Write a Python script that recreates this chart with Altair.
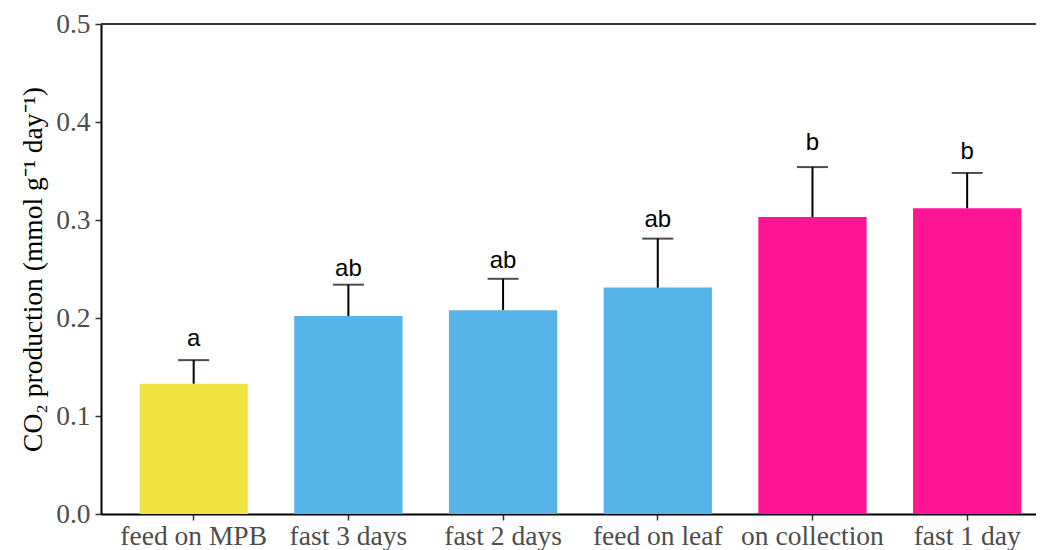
import altair as alt
import pandas as pd

categories = ["feed on MPB", "fast 3 days", "fast 2 days", "feed on leaf", "on collection", "fast 1 day"]
means = [0.133, 0.202, 0.208, 0.231, 0.303, 0.312]
upper = [0.157, 0.234, 0.240, 0.281, 0.354, 0.348]
letters = ["a", "ab", "ab", "ab", "b", "b"]
letter_y = [0.171, 0.243, 0.251, 0.293, 0.371, 0.362]
groups = ["A", "B", "B", "B", "C", "C"]
group_colors = ["#F0E442", "#56B4E9", "#FF1493"]

df = pd.DataFrame({
    "treatment": categories,
    "mean": means,
    "upper": upper,
    "letter": letters,
    "letter_y": letter_y,
    "group": groups,
})

x_enc = alt.X(
    "treatment:N",
    sort=categories,
    scale=alt.Scale(paddingInner=0.3, paddingOuter=0.172, align=0.724),
    axis=alt.Axis(
        title=None, labelAngle=0, labelFont="Liberation Serif", labelFontSize=27.5,
        labelColor="#4D4D4D", tickColor="#333333", tickSize=6, tickWidth=1.5,
        domainColor="#000000", domainWidth=2, labelPadding=2,
    ),
)

y_scale = alt.Scale(domain=[0, 0.5], nice=False, zero=True)
y_axis = alt.Axis(
    title="CO₂ production (mmol g⁻¹ day⁻¹)", values=[0, 0.1, 0.2, 0.3, 0.4, 0.5], format=".1f",
    labelFont="Liberation Serif", labelFontSize=27.5, labelColor="#4D4D4D",
    tickColor="#333333", tickSize=6, tickWidth=1.5, domainColor="#000000", domainWidth=2,
    grid=False, titleFont="Liberation Serif", titleFontSize=27.5, titleFontWeight="normal",
    titleColor="#000000", titlePadding=8, labelPadding=5,
)

base = alt.Chart(df)

bars = base.mark_bar().encode(
    x=x_enc,
    y=alt.Y("mean:Q", scale=y_scale, axis=y_axis),
    color=alt.Color("group:N", scale=alt.Scale(domain=["A", "B", "C"], range=group_colors), legend=None),
)

stems = base.mark_rule(color="black", strokeWidth=2).encode(
    x=alt.X("treatment:N", sort=categories),
    y=alt.Y("mean:Q"),
    y2="upper:Q",
)

caps = base.mark_tick(color="black", thickness=2, size=31, orient="horizontal").encode(
    x=alt.X("treatment:N", sort=categories),
    y=alt.Y("upper:Q"),
)

labels = base.mark_text(font="Liberation Sans", fontSize=24, color="black", baseline="alphabetic").encode(
    x=alt.X("treatment:N", sort=categories),
    y=alt.Y("letter_y:Q"),
    text="letter:N",
)

top_line = base.mark_rule(color="#333333", strokeWidth=1).encode(y=alt.datum(0.5))

chart = alt.layer(bars, stems, caps, labels, top_line).properties(
    width=935, height=490,
    padding={"left": 93, "top": 16, "right": 0, "bottom": 36},
    autosize=alt.AutoSizeParams(type="none"),
).configure_view(stroke=None)

chart.save("out.html", embed_options={"renderer": "svg", "actions": False})
